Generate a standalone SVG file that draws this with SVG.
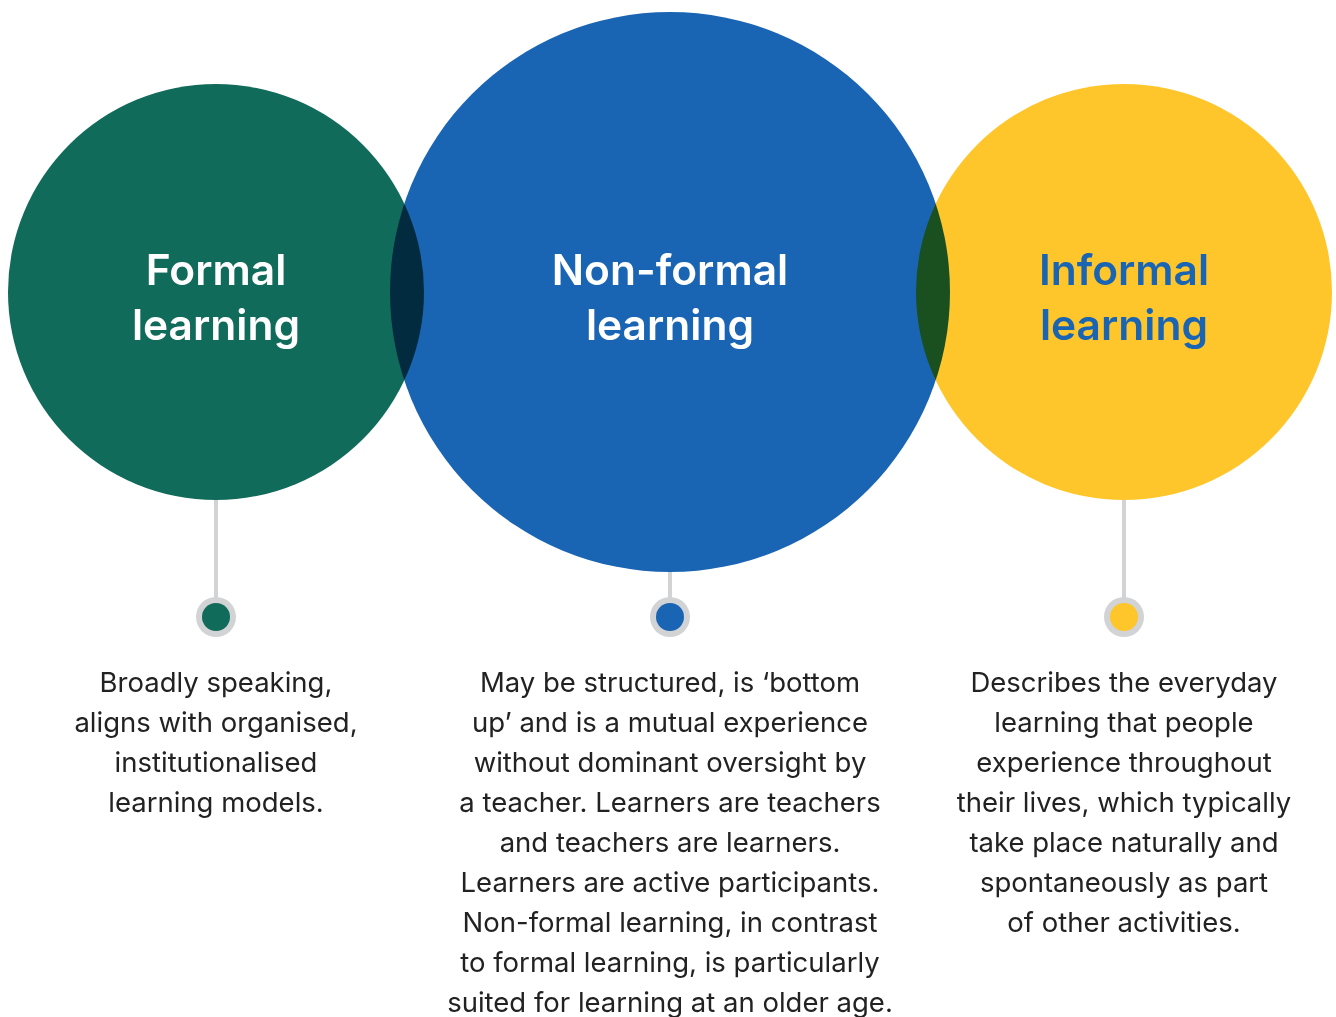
<svg xmlns="http://www.w3.org/2000/svg" width="1336" height="1017" viewBox="0 0 1336 1017">
<style>
.c{mix-blend-mode:multiply}
.t{font-family:Inter,"Open Sans","Liberation Sans",sans-serif;font-weight:600;font-size:42.5px;text-anchor:middle}
.d{font-family:Inter,"Open Sans","Liberation Sans",sans-serif;font-weight:400;font-size:27.5px;fill:#222;text-anchor:middle}
.ln{stroke:#d2d3d5;stroke-width:4}
.ring{fill:#d2d3d5}
</style>
<rect width="1336" height="1017" fill="#fff"/>
<g id="connectors">
<line class="ln" x1="216" y1="495" x2="216" y2="605"/>
<line class="ln" x1="670" y1="565" x2="670" y2="605"/>
<line class="ln" x1="1124" y1="495" x2="1124" y2="605"/>
</g>
<g id="circles" style="isolation:isolate">
<g id="formal"><circle class="c" cx="216" cy="292" r="208" fill="#116b5a"/></g>
<g id="nonformal"><circle class="c" cx="670" cy="292" r="280" fill="#1a65b3"/></g>
<g id="informal"><circle class="c" cx="1124" cy="292" r="208" fill="#fec62b"/></g>
</g>
<g id="titles">
<text class="t" fill="#fff" x="216" y="285">Formal</text>
<text class="t" fill="#fff" x="216" y="340">learning</text>
<text class="t" fill="#fff" x="670" y="285">Non-formal</text>
<text class="t" fill="#fff" x="670" y="340">learning</text>
<text class="t" fill="#1a65b3" x="1124" y="285">Informal</text>
<text class="t" fill="#1a65b3" x="1124" y="340">learning</text>
</g>
<g id="dot-formal"><circle class="ring" cx="216" cy="617" r="20"/><circle cx="216" cy="617" r="14" fill="#116b5a"/></g>
<g id="dot-nonformal"><circle class="ring" cx="670" cy="617" r="20"/><circle cx="670" cy="617" r="14" fill="#1a65b3"/></g>
<g id="dot-informal"><circle class="ring" cx="1124" cy="617" r="20"/><circle cx="1124" cy="617" r="14" fill="#fec62b"/></g>
<g id="desc-formal">
<text class="d" x="216" y="692">Broadly speaking,</text>
<text class="d" x="216" y="732">aligns with organised,</text>
<text class="d" x="216" y="772">institutionalised</text>
<text class="d" x="216" y="812">learning models.</text>
</g>
<g id="desc-nonformal">
<text class="d" x="670" y="692">May be structured, is ‘bottom</text>
<text class="d" x="670" y="732">up’ and is a mutual experience</text>
<text class="d" x="670" y="772">without dominant oversight by</text>
<text class="d" x="670" y="812">a teacher. Learners are teachers</text>
<text class="d" x="670" y="852">and teachers are learners.</text>
<text class="d" x="670" y="892">Learners are active participants.</text>
<text class="d" x="670" y="932">Non-formal learning, in contrast</text>
<text class="d" x="670" y="972">to formal learning, is particularly</text>
<text class="d" x="670" y="1012">suited for learning at an older age.</text>
</g>
<g id="desc-informal">
<text class="d" x="1124" y="692">Describes the everyday</text>
<text class="d" x="1124" y="732">learning that people</text>
<text class="d" x="1124" y="772">experience throughout</text>
<text class="d" x="1124" y="812">their lives, which typically</text>
<text class="d" x="1124" y="852">take place naturally and</text>
<text class="d" x="1124" y="892">spontaneously as part</text>
<text class="d" x="1124" y="932">of other activities.</text>
</g>
</svg>
